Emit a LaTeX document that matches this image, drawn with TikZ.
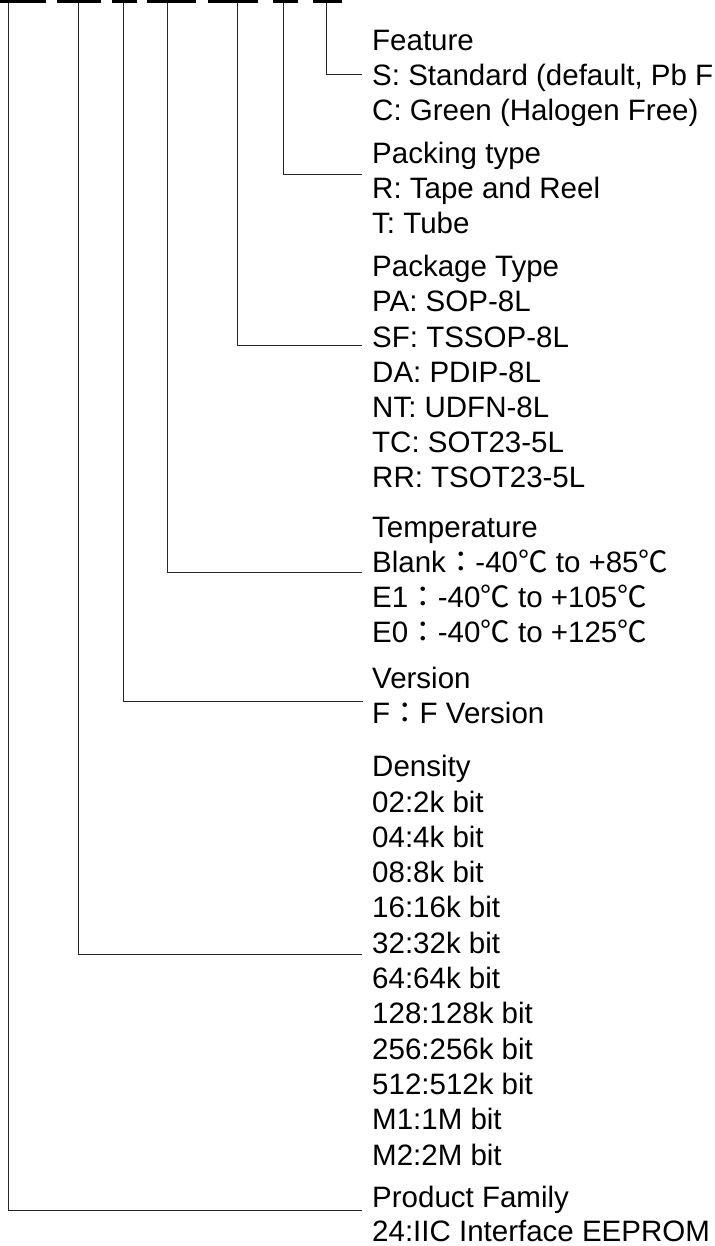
\documentclass[tikz,border=0pt]{standalone}
\usepackage{fontspec}
\setmainfont{Liberation Sans}
\newfontfamily\cjkfont{Noto Sans CJK TC}
\newcommand{\fwcolon}{{\cjkfont ：}}
\newcommand{\degC}{{\cjkfont ℃}}
\begin{document}
\begin{tikzpicture}[x=1pt, y=-1pt,
  txt/.style={anchor=base west, inner sep=0pt, font=\fontsize{29.5pt}{35pt}\selectfont},
  bar/.style={fill=black, draw=none, inner sep=0pt, minimum height=3pt, anchor=north west},
  conn/.style={draw=black!85, line width=1pt}]
\useasboundingbox (0,0) rectangle (714,1246);
\fill[white] (0,0) rectangle (714,1246);
% top bars
\node[bar, minimum width=46pt] (b1) at (0,0) {};
\node[bar, minimum width=44pt] (b2) at (57,0) {};
\node[bar, minimum width=25pt] (b3) at (112,0) {};
\node[bar, minimum width=49pt] (b4) at (147,0) {};
\node[bar, minimum width=50pt] (b5) at (208,0) {};
\node[bar, minimum width=25pt] (b6) at (273,0) {};
\node[bar, minimum width=29pt] (b7) at (313,0) {};
% text
\node[txt] (f0) at (372,51) {Feature};
\node[txt] (f1) at (372,86) {S: Standard (default, Pb F};
\node[txt] (f2) at (372,121) {C: Green (Halogen Free)};
\node[txt] (p0) at (372,164) {Packing type};
\node[txt] (p1) at (372,199) {R: Tape and Reel};
\node[txt] (p2) at (372,234) {T: Tube};
\node[txt] (k0) at (372,277) {Package Type};
\node[txt] (k1) at (372,312) {PA: SOP-8L};
\node[txt] (k2) at (372,347) {SF: TSSOP-8L};
\node[txt] (k3) at (372,382) {DA: PDIP-8L};
\node[txt] (k4) at (372,417) {NT: UDFN-8L};
\node[txt] (k5) at (372,452) {TC: SOT23-5L};
\node[txt] (k6) at (372,487) {RR: TSOT23-5L};
\node[txt] (t0) at (372,537) {Temperature};
\node[txt] (t1) at (372,572) {Blank\fwcolon-40\degC{} to +85\degC};
\node[txt] (t2) at (372,607) {E1\fwcolon-40\degC{} to +105\degC};
\node[txt] (t3) at (372,642) {E0\fwcolon-40\degC{} to +125\degC};
\node[txt] (v0) at (372,688) {Version};
\node[txt] (v1) at (372,723) {F\fwcolon F Version};
\node[txt] (d0) at (372,776.7) {Density};
\node[txt] (d1) at (372,812) {02:2k bit};
\node[txt] (d2) at (372,847.3) {04:4k bit};
\node[txt] (d3) at (372,882.6) {08:8k bit};
\node[txt] (d4) at (372,917.9) {16:16k bit};
\node[txt] (d5) at (372,953.2) {32:32k bit};
\node[txt] (d6) at (372,988.5) {64:64k bit};
\node[txt] (d7) at (372,1023.8) {128:128k bit};
\node[txt] (d8) at (372,1059.1) {256:256k bit};
\node[txt] (d9) at (372,1094.4) {512:512k bit};
\node[txt] (d10) at (372,1129.7) {M1:1M bit};
\node[txt] (d11) at (372,1165) {M2:2M bit};
\node[txt] (r0) at (372,1207) {Product Family};
\node[txt] (r1) at (372,1241.5) {24:IIC Interface EEPROM};
% connector end points
\coordinate (s1) at (8,3);    \coordinate (e1) at (362,1210);
\coordinate (s2) at (78,3);   \coordinate (e2) at (362,954);
\coordinate (s3) at (123,3);  \coordinate (e3) at (363,701);
\coordinate (s4) at (167,3);  \coordinate (e4) at (362,572);
\coordinate (s5) at (237,3);  \coordinate (e5) at (362,345);
\coordinate (s6) at (283,3);  \coordinate (e6) at (362,175);
\coordinate (s7) at (326,3);  \coordinate (e7) at (362,75);
\draw[conn] (s1) |- (e1);
\draw[conn] (s2) |- (e2);
\draw[conn] (s3) |- (e3);
\draw[conn] (s4) |- (e4);
\draw[conn] (s5) |- (e5);
\draw[conn] (s6) |- (e6);
\draw[conn] (s7) |- (e7);
\end{tikzpicture}
\end{document}
